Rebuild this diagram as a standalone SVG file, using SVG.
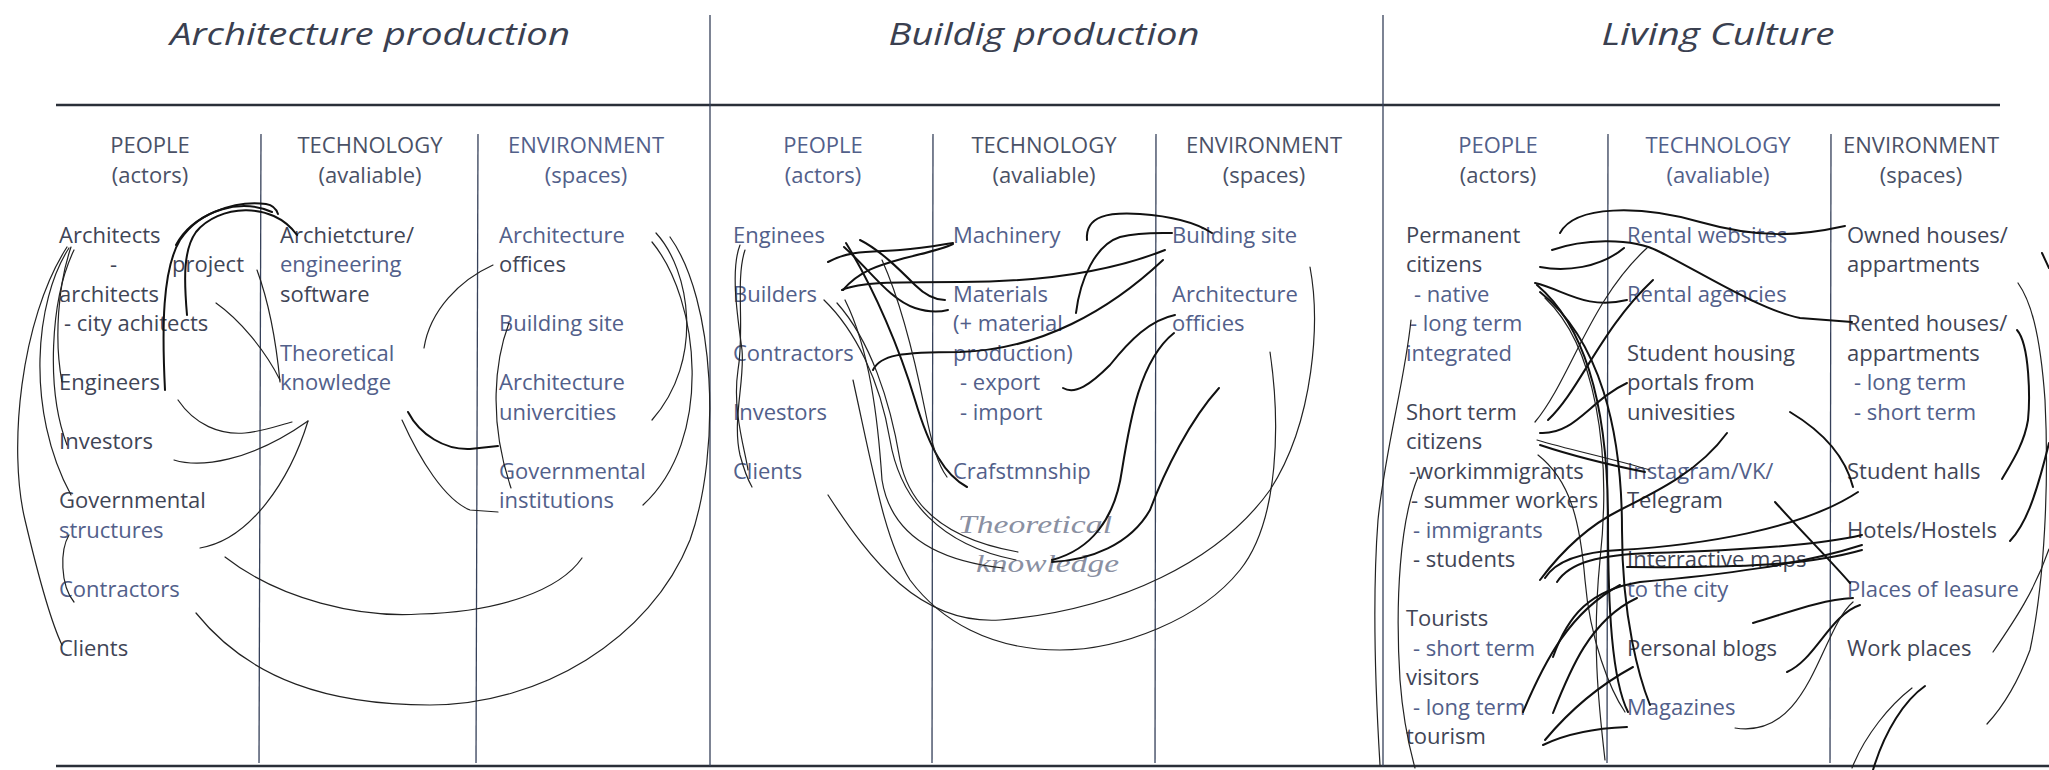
<svg xmlns="http://www.w3.org/2000/svg" width="2049" height="770" viewBox="0 0 2049 770">
<style>
text{font-family:"Open Sans","Noto Sans","Liberation Sans",sans-serif;font-size:22px;fill:#3f4556}
.ti{font-style:italic;font-size:31px;fill:#3a4050;text-anchor:middle}
.h{text-anchor:middle;fill:#4a5166}
.b{fill:#52608a}
.hw{font-family:"Liberation Serif","DejaVu Serif",serif;font-style:italic;font-size:25px;fill:#8a90a2}
.gh{stroke:#2a2f38;stroke-width:2.6;fill:none}
.g{stroke:#36415a;stroke-width:1.3;fill:none}
.k{stroke:#111;stroke-width:2;fill:none;stroke-linecap:round}
.t{stroke:#222;stroke-width:1.2;fill:none;stroke-linecap:round}
</style>
<rect width="2049" height="770" fill="#fff"/>
<g id="grid">
<line class="gh" x1="56" y1="105" x2="2000" y2="105"/>
<line class="gh" x1="56" y1="766" x2="2049" y2="766"/>
<line class="g" x1="710" y1="15" x2="710" y2="766"/>
<line class="g" x1="1383" y1="15" x2="1383" y2="766"/>
<line class="g" x1="261" y1="134" x2="259" y2="763"/>
<line class="g" x1="478" y1="134" x2="476" y2="763"/>
<line class="g" x1="933" y1="134" x2="932" y2="763"/>
<line class="g" x1="1156" y1="134" x2="1155" y2="763"/>
<line class="g" x1="1608" y1="134" x2="1607" y2="763"/>
<line class="g" x1="1831" y1="134" x2="1830" y2="763"/>
</g>
<g id="titles">
<text class="ti" x="370" y="45" textLength="400" lengthAdjust="spacingAndGlyphs">Architecture production</text>
<text class="ti" x="1044" y="45" textLength="311" lengthAdjust="spacingAndGlyphs">Buildig production</text>
<text class="ti" x="1718" y="45" textLength="233" lengthAdjust="spacingAndGlyphs">Living Culture</text>
</g>
<g id="headers">
<text class="h" x="150" y="153">PEOPLE</text><text class="h" x="150" y="183">(actors)</text>
<text class="h" x="370" y="153">TECHNOLOGY</text><text class="h" x="370" y="183">(avaliable)</text>
<text class="h b" x="586" y="153">ENVIRONMENT</text><text class="h b" x="586" y="183">(spaces)</text>
<text class="h b" x="823" y="153">PEOPLE</text><text class="h b" x="823" y="183">(actors)</text>
<text class="h" x="1044" y="153">TECHNOLOGY</text><text class="h" x="1044" y="183">(avaliable)</text>
<text class="h" x="1264" y="153">ENVIRONMENT</text><text class="h" x="1264" y="183">(spaces)</text>
<text class="h b" x="1498" y="153">PEOPLE</text><text class="h" x="1498" y="183">(actors)</text>
<text class="h b" x="1718" y="153">TECHNOLOGY</text><text class="h b" x="1718" y="183">(avaliable)</text>
<text class="h" x="1921" y="153">ENVIRONMENT</text><text class="h" x="1921" y="183">(spaces)</text>
</g>
<g id="ap-architects"><text x="59" y="243">Architects</text><text x="110" y="272">-</text><text x="172" y="272">project</text><text x="59" y="302">architects</text><text x="64" y="331">- city achitects</text></g>
<g id="ap-engineers"><text x="59" y="390">Engineers</text></g>
<g id="ap-investors"><text x="59" y="449">Investors</text></g>
<g id="ap-governmental"><text x="59" y="508">Governmental</text><text class="b" x="59" y="538">structures</text></g>
<g id="ap-contractors"><text class="b" x="59" y="597">Contractors</text></g>
<g id="ap-clients"><text x="59" y="656">Clients</text></g>
<g id="ap-software"><text x="280" y="243">Archietcture/</text><text class="b" x="280" y="272">engineering</text><text x="280" y="302">software</text></g>
<g id="ap-knowledge"><text class="b" x="280" y="361">Theoretical</text><text class="b" x="280" y="390">knowledge</text></g>
<g id="ap-offices"><text class="b" x="499" y="243">Architecture</text><text x="499" y="272">offices</text></g>
<g id="ap-site"><text class="b" x="499" y="331">Building site</text></g>
<g id="ap-univ"><text class="b" x="499" y="390">Architecture</text><text class="b" x="499" y="420">univercities</text></g>
<g id="ap-gov"><text class="b" x="499" y="479">Governmental</text><text class="b" x="499" y="508">institutions</text></g>
<g id="bp-enginees"><text class="b" x="733" y="243">Enginees</text></g>
<g id="bp-builders"><text class="b" x="733" y="302">Builders</text></g>
<g id="bp-contractors"><text class="b" x="733" y="361">Contractors</text></g>
<g id="bp-investors"><text class="b" x="733" y="420">Investors</text></g>
<g id="bp-clients"><text class="b" x="733" y="479">Clients</text></g>
<g id="bp-machinery"><text class="b" x="953" y="243">Machinery</text></g>
<g id="bp-materials"><text class="b" x="953" y="302">Materials</text><text class="b" x="953" y="331">(+ material</text><text class="b" x="953" y="361">production)</text><text class="b" x="960" y="390">- export</text><text class="b" x="960" y="420">- import</text></g>
<g id="bp-craft"><text class="b" x="953" y="479">Crafstmnship</text></g>
<g id="bp-knowledge"><text class="hw" x="958" y="533" textLength="154" lengthAdjust="spacingAndGlyphs">Theoretical</text><text class="hw" x="976" y="572" textLength="143" lengthAdjust="spacingAndGlyphs">knowledge</text></g>
<g id="bp-site"><text class="b" x="1172" y="243">Building site</text></g>
<g id="bp-offices"><text class="b" x="1172" y="302">Architecture</text><text class="b" x="1172" y="331">officies</text></g>
<g id="lc-permanent"><text x="1406" y="243">Permanent</text><text x="1406" y="272">citizens</text><text class="b" x="1414" y="302">- native</text><text class="b" x="1410" y="331">- long term</text><text class="b" x="1406" y="361">integrated</text></g>
<g id="lc-short"><text x="1406" y="420">Short term</text><text x="1406" y="449">citizens</text><text x="1409" y="479">-workimmigrants</text><text x="1411" y="508">- summer workers</text><text class="b" x="1413" y="538">- immigrants</text><text x="1413" y="567">- students</text></g>
<g id="lc-tourists"><text x="1406" y="626">Tourists</text><text class="b" x="1413" y="656">- short term</text><text x="1406" y="685">visitors</text><text class="b" x="1413" y="715">- long term</text><text x="1406" y="744">tourism</text></g>
<g id="lc-rentalweb"><text class="b" x="1627" y="243">Rental websites</text></g>
<g id="lc-agencies"><text class="b" x="1627" y="302">Rental agencies</text></g>
<g id="lc-portals"><text x="1627" y="361">Student housing</text><text x="1627" y="390">portals from</text><text x="1627" y="420">univesities</text></g>
<g id="lc-social"><text class="b" x="1627" y="479">Instagram/VK/</text><text x="1627" y="508">Telegram</text></g>
<g id="lc-maps"><text x="1627" y="567">Interractive maps</text><text class="b" x="1627" y="597">to the city</text></g>
<g id="lc-blogs"><text x="1627" y="656">Personal blogs</text></g>
<g id="lc-magazines"><text class="b" x="1627" y="715">Magazines</text></g>
<g id="lc-owned"><text x="1847" y="243">Owned houses/</text><text x="1847" y="272">appartments</text></g>
<g id="lc-rented"><text x="1847" y="331">Rented houses/</text><text x="1847" y="361">appartments</text><text class="b" x="1854" y="390">- long term</text><text class="b" x="1854" y="420">- short term</text></g>
<g id="lc-halls"><text x="1847" y="479">Student halls</text></g>
<g id="lc-hotels"><text x="1847" y="538">Hotels/Hostels</text></g>
<g id="lc-leasure"><text class="b" x="1847" y="597">Places of leasure</text></g>
<g id="lc-work"><text x="1847" y="656">Work places</text></g>
<g id="connectors">
<path class="k" d="M165,390 C162,330 162,270 180,240 C200,210 240,198 272,212"/>
<path class="k" d="M187,315 C184,280 183,250 196,232 C218,205 272,200 297,235"/>
<path class="k" d="M176,245 C192,214 236,200 266,204 C272,205 276,208 278,214"/>
<path class="t" d="M257,270 C268,300 276,340 280,382"/>
<path class="t" d="M216,303 C240,320 265,350 280,380"/>
<path class="t" d="M178,400 C195,425 220,435 245,433 C265,431 280,425 292,422"/>
<path class="t" d="M174,460 C200,468 250,462 308,421"/>
<path class="t" d="M308,421 C290,480 250,540 200,548"/>
<path class="t" d="M71,247 C58,285 54,340 62,382"/>
<path class="t" d="M74,250 C50,300 46,390 67,445"/>
<path class="t" d="M69,248 C35,300 25,410 71,495"/>
<path class="t" d="M67,247 C20,320 8,450 25,520 C38,575 50,620 62,645"/>
<path class="t" d="M69,535 C60,550 60,585 74,602"/>
<path class="t" d="M656,233 C690,270 705,360 652,420"/>
<path class="t" d="M652,242 C700,300 714,440 643,505"/>
<path class="t" d="M670,237 C715,300 722,450 690,540 C650,640 540,705 430,705 C330,705 250,680 196,613"/>
<path class="t" d="M225,557 C280,600 360,618 420,614 C500,612 560,590 582,558"/>
<path class="t" d="M493,265 C460,280 430,310 424,348"/>
<path class="k" d="M408,412 C420,435 445,450 470,449 L498,446"/>
<path class="t" d="M402,420 C420,460 445,500 470,510 L498,512"/>
<path class="t" d="M509,323 C495,360 488,420 511,488"/>
<path class="k" d="M828,262 C850,250 870,252 900,250 C925,248 940,245 953,243"/>
<path class="k" d="M843,290 C860,270 880,265 905,258 C930,252 945,248 953,244"/>
<path class="k" d="M860,240 C880,250 900,270 915,285 C925,295 935,300 945,300"/>
<path class="k" d="M844,247 C870,270 890,300 915,308 C930,313 940,312 948,310"/>
<path class="k" d="M842,290 C860,282 890,282 960,282 C1040,282 1110,272 1165,250"/>
<path class="k" d="M873,370 C880,355 900,352 960,352 C1040,350 1110,310 1163,260"/>
<path class="k" d="M1087,240 C1085,215 1110,212 1140,214 C1170,216 1195,222 1212,233"/>
<path class="k" d="M1076,313 C1080,280 1095,245 1120,237 C1140,232 1160,233 1172,233"/>
<path class="k" d="M1063,388 C1075,395 1090,385 1110,365 C1130,340 1150,320 1175,315"/>
<path class="k" d="M1174,333 C1140,360 1130,420 1122,470 C1115,520 1090,550 1052,560"/>
<path class="k" d="M1219,388 C1190,420 1165,470 1150,510 C1130,545 1090,560 1052,562"/>
<path class="t" d="M1310,267 C1320,320 1315,420 1270,490 C1220,560 1120,610 1000,620 C920,625 870,560 828,495"/>
<path class="t" d="M1270,352 C1280,420 1280,520 1240,570 C1200,620 1120,650 1060,650 C990,650 940,620 910,580 C885,540 875,480 853,380"/>
<path class="k" d="M846,243 C875,290 900,350 915,400 C930,450 945,475 967,487"/>
<path class="t" d="M882,260 C900,300 915,360 925,410 C932,445 938,465 947,477"/>
<path class="t" d="M824,300 C855,330 880,380 890,440 C900,500 940,545 1016,560"/>
<path class="t" d="M837,303 C870,340 890,400 900,460 C910,510 950,540 1018,552"/>
<path class="t" d="M845,300 C870,350 878,420 882,480 C890,530 930,560 1003,568"/>
<path class="t" d="M740,245 C730,270 738,320 742,350 C745,380 732,420 740,455 C744,470 748,480 752,487"/>
<path class="t" d="M745,250 C735,280 745,330 738,370 C732,410 745,450 748,470"/>
<path class="k" d="M1560,233 C1575,205 1640,205 1700,222 S1800,236 1845,226"/>
<path class="k" d="M1552,250 C1580,240 1630,236 1660,252 C1700,272 1760,310 1800,318 L1852,322"/>
<path class="k" d="M1540,267 C1565,272 1600,268 1624,248"/>
<path class="k" d="M1535,283 C1565,290 1585,310 1627,300"/>
<path class="t" d="M1535,422 C1570,380 1590,300 1647,248"/>
<path class="k" d="M1548,420 C1580,390 1600,330 1653,280"/>
<path class="k" d="M1540,433 C1575,435 1590,400 1627,383"/>
<path class="t" d="M1537,440 C1570,450 1610,458 1650,470"/>
<path class="k" d="M1540,445 C1570,455 1610,465 1645,472"/>
<path class="k" d="M1537,285 C1590,330 1608,420 1608,520 C1608,610 1612,680 1628,712"/>
<path class="k" d="M1540,292 C1600,340 1622,430 1622,530 C1622,620 1640,680 1650,705"/>
<path class="t" d="M1545,298 C1595,345 1612,450 1600,560 C1592,640 1598,700 1605,760"/>
<path class="t" d="M1538,455 C1570,480 1580,520 1585,580 C1590,640 1610,690 1625,712"/>
<path class="k" d="M1727,433 C1700,470 1660,490 1620,510 C1580,530 1555,560 1540,580"/>
<path class="k" d="M1858,492 C1800,530 1700,545 1620,550 C1580,552 1555,562 1545,578"/>
<path class="k" d="M1862,535 C1820,545 1750,550 1650,553 C1600,555 1570,562 1557,582"/>
<path class="k" d="M1862,545 C1800,565 1720,575 1640,582 C1590,590 1568,615 1553,657"/>
<path class="k" d="M1862,550 C1810,565 1740,568 1627,567"/>
<path class="k" d="M1553,713 C1570,670 1590,620 1637,598"/>
<path class="k" d="M1523,712 C1545,660 1570,612 1620,585"/>
<path class="k" d="M1543,745 C1570,732 1600,728 1627,727"/>
<path class="k" d="M1545,740 C1570,710 1600,685 1633,667"/>
<path class="k" d="M1853,598 C1820,600 1790,612 1753,623"/>
<path class="k" d="M1860,605 C1830,615 1815,660 1787,672"/>
<path class="t" d="M1853,602 C1820,630 1810,740 1735,728"/>
<path class="k" d="M1790,412 C1820,430 1845,455 1853,487"/>
<path class="k" d="M1775,502 C1800,530 1830,560 1850,583"/>
<path class="k" d="M1925,686 C1905,700 1885,730 1873,770"/>
<path class="t" d="M1912,688 C1890,705 1865,735 1852,768"/>
<path class="k" d="M2042,253 L2049,268"/>
<path class="t" d="M2018,283 C2030,300 2040,330 2045,400 C2049,480 2045,580 2030,650 C2015,690 2000,710 1987,724"/>
<path class="k" d="M2017,330 C2030,345 2030,400 2028,420 C2024,445 2010,465 2002,479"/>
<path class="k" d="M2010,541 C2025,525 2035,500 2049,443"/>
<path class="t" d="M1993,652 C2015,620 2035,590 2049,549"/>
<path class="t" d="M1411,320 C1405,380 1385,450 1378,520 C1372,600 1376,700 1380,765"/>
<path class="t" d="M1418,477 C1400,520 1395,600 1400,680 C1403,720 1410,750 1415,768"/>
</g>
</svg>
